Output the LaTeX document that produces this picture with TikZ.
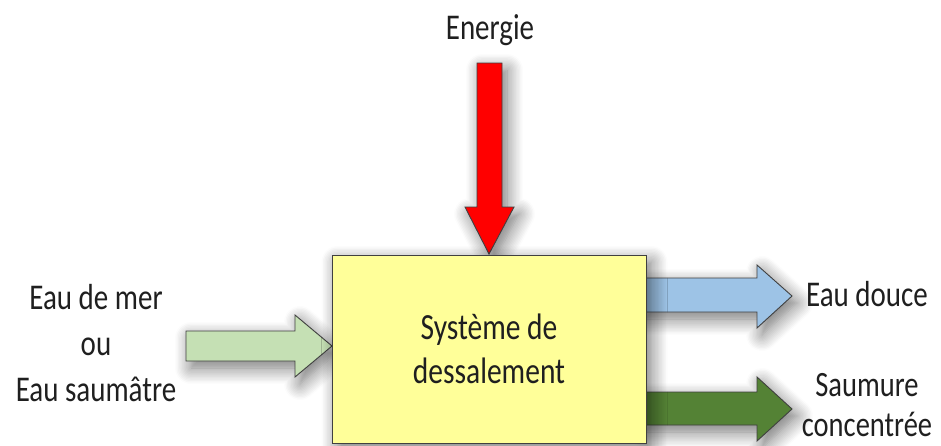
\documentclass[tikz,border=0pt]{standalone}
\usepackage{fontspec}
\setmainfont{Carlito}
\usetikzlibrary{shadows.blur,calc}
\definecolor{boxyellow}{HTML}{FFFF99}
\definecolor{energyred}{HTML}{FF0000}
\definecolor{feedgreen}{HTML}{C5E0B4}
\definecolor{freshblue}{HTML}{9DC3E6}
\definecolor{brinegreen}{HTML}{548235}
\definecolor{edgegray}{HTML}{404040}
\tikzset{
  soft/.style={blur shadow={shadow xshift=5pt, shadow yshift=-7pt,
      shadow blur radius=16pt, shadow blur steps=12, shadow opacity=55}},
  blockarrow/.style={draw=edgegray, line width=0.9pt, line join=miter, soft},
  label/.style={font=\fontsize{29}{37}\selectfont, text=black!88, align=center,
      inner sep=0pt, yscale=1.25, transform shape},
  sysbox/.style={draw=edgegray, line width=1pt, fill=boxyellow, soft}
}
\begin{document}
\begin{tikzpicture}[x=1pt,y=-1pt]
  \useasboundingbox (0,0) rectangle (941,445);
  % energy input from above
  \node[label] (energy) at (490,30) {Energie};
  \draw[blockarrow, fill=energyred]
    (477,63) -- (502,63) -- (502,207) -- (514,207) -- (489,254)
    -- (465,207) -- (477,207) -- cycle;
  % feed water arrow
  \draw[blockarrow, fill=feedgreen]
    (186,331) -- (295,331) -- (295,315) -- (332,346) -- (295,377)
    -- (295,361) -- (186,361) -- cycle;
  % fresh water output
  \draw[blockarrow, fill=freshblue]
    (640,278) -- (757,278) -- (757,265) -- (792,296) -- (757,328)
    -- (757,312) -- (640,312) -- cycle;
  % brine output
  \draw[blockarrow, fill=brinegreen]
    (640,392) -- (757,392) -- (757,377) -- (792,409) -- (757,441)
    -- (757,425) -- (640,425) -- cycle;
  % desalination unit
  \node[sysbox, minimum width=314pt, minimum height=188pt, inner sep=0pt]
    (sys) at (489.5,349) {};
  \node[label, font=\fontsize{29.5}{35}\selectfont] (systxt) at (489,349)
    {Système de\\dessalement};
  % side labels
  \node[label] (feed) at (96,343) {Eau de mer\\ou\\Eau saumâtre};
  \node[label] (fresh) at (867,294) {Eau douce};
  \node[label, font=\fontsize{28.5}{32}\selectfont] (brine) at (867,405)
    {Saumure\\concentrée};
\end{tikzpicture}
\end{document}
